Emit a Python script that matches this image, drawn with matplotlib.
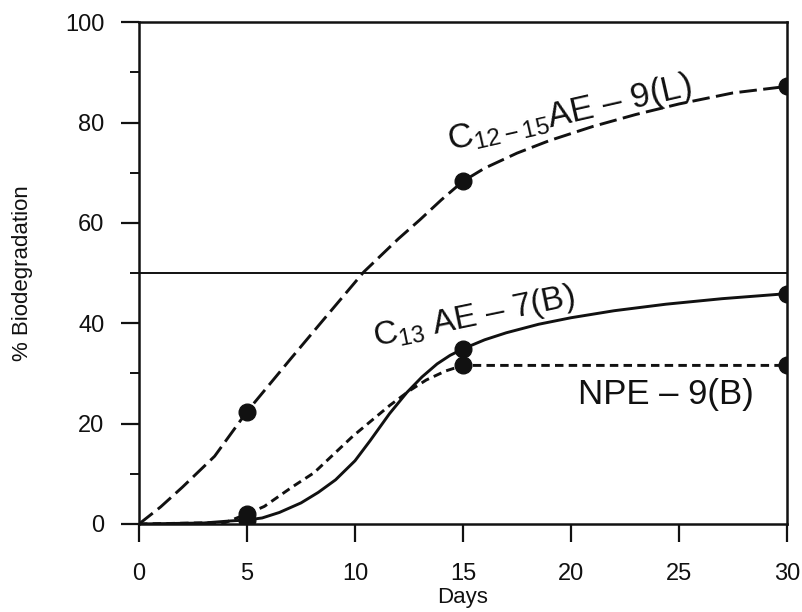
import matplotlib
matplotlib.use("Agg")
import matplotlib.pyplot as plt

# ---------------------------------------------------------------------------
# DATA
# ---------------------------------------------------------------------------
c1215_days = [0, 1, 2, 3.5, 5, 6, 7, 8.5, 10.4, 12, 13, 14, 15, 16, 17.5, 19, 21, 23, 25, 27.5, 30]
c1215_vals = [0, 3.4, 7.3, 13.5, 22.4, 27.6, 32.8, 40.5, 50.2, 56.8, 60.6, 64.6, 68.3, 70.9, 73.9, 76.4, 79.2, 81.6, 83.7, 85.9, 87.2]

c13_days = [0, 3, 4.2, 5, 5.7, 6.5, 7.5, 8.3, 9.1, 10, 10.7, 11.6, 12.4, 13.1, 13.8, 14.4, 15, 16, 17, 18.5, 20, 22, 24.4, 27, 30]
c13_vals = [0, 0.2, 0.6, 0.8, 1.2, 2.3, 4.2, 6.3, 8.8, 12.6, 16.6, 22, 26.2, 29.3, 31.9, 33.6, 34.9, 36.7, 38.1, 39.8, 41.1, 42.5, 43.8, 44.9, 45.9]

npe_days = [0, 4, 5, 5.8, 7.1, 8.1, 9.9, 11.6, 12.5, 13.3, 14.2, 15, 30]
npe_vals = [0, 0.3, 2, 3.5, 7.4, 10.2, 17.5, 23.6, 26.5, 28.7, 30.5, 31.6, 31.6]

marker_days = [5, 15, 30]
ref_level = 50

x_ticks = [0, 5, 10, 15, 20, 25, 30]
y_ticks = [0, 20, 40, 60, 80, 100]
y_minor = [10, 30, 50, 70, 90]

INK = "#111111"

plt.rcParams["font.family"] = ["Liberation Sans", "DejaVu Sans"]
plt.rcParams["mathtext.fontset"] = "custom"
plt.rcParams["mathtext.rm"] = "Liberation Sans"
plt.rcParams["mathtext.it"] = "Liberation Sans:italic"
plt.rcParams["mathtext.bf"] = "Liberation Sans:bold"


def mark_idx(days):
    return [days.index(d) for d in marker_days]


fig = plt.figure(figsize=(8.03, 6.12), dpi=100)
ax = fig.add_axes([0.1731, 0.1438, 0.807, 0.820])

# reference line at 50 %
ax.axhline(ref_level, color=INK, lw=1.4, zorder=1)

ax.plot(c1215_days, c1215_vals, color=INK, lw=2.1, dashes=(6, 2.2),
        marker="o", ms=12, markevery=mark_idx(c1215_days), zorder=3)
ax.plot(c13_days, c13_vals, color=INK, lw=2.1, solid_joinstyle="round",
        marker="o", ms=12, markevery=mark_idx(c13_days), zorder=3)
ax.plot(npe_days, npe_vals, color=INK, lw=2.1, dashes=(2.9, 1.8),
        marker="o", ms=12, markevery=mark_idx(npe_days), zorder=3)

# curve labels
ax.text(20.05, 80, r"C$_{\mathrm{12-15}}$AE – 9(L)", fontsize=25, color=INK,
        rotation=12.8, rotation_mode="anchor", ha="center", va="baseline")
ax.text(15.6, 39.5, r"C$_{\mathrm{13}}$ AE – 7(B)", fontsize=24, color=INK,
        rotation=11.6, rotation_mode="anchor", ha="center", va="baseline")
ax.text(24.4, 24, "NPE – 9(B)", fontsize=25, color=INK,
        ha="center", va="baseline")

ax.set_xlim(0, 30)
ax.set_ylim(0, 100)
ax.set_xticks(x_ticks)
ax.set_yticks(y_ticks)
ax.set_yticks(y_minor, minor=True)
ax.tick_params(axis="both", which="major", direction="out", length=13,
               width=1.6, color=INK, labelsize=17, labelcolor=INK)
ax.tick_params(axis="x", pad=15)
ax.tick_params(axis="y", pad=12)
ax.tick_params(axis="y", which="minor", direction="out", length=6.5,
               width=1.4, color=INK)

for side in ["left", "right", "top", "bottom"]:
    ax.spines[side].set_linewidth(1.8)
    ax.spines[side].set_color(INK)

ax.set_xlabel("Days", fontsize=16, color=INK)
ax.xaxis.set_label_coords(0.5, -0.125)
ax.set_ylabel("% Biodegradation", fontsize=16, color=INK)
ax.yaxis.set_label_coords(-0.164, 0.5)

fig.savefig("out.png", dpi=100, facecolor="white")
